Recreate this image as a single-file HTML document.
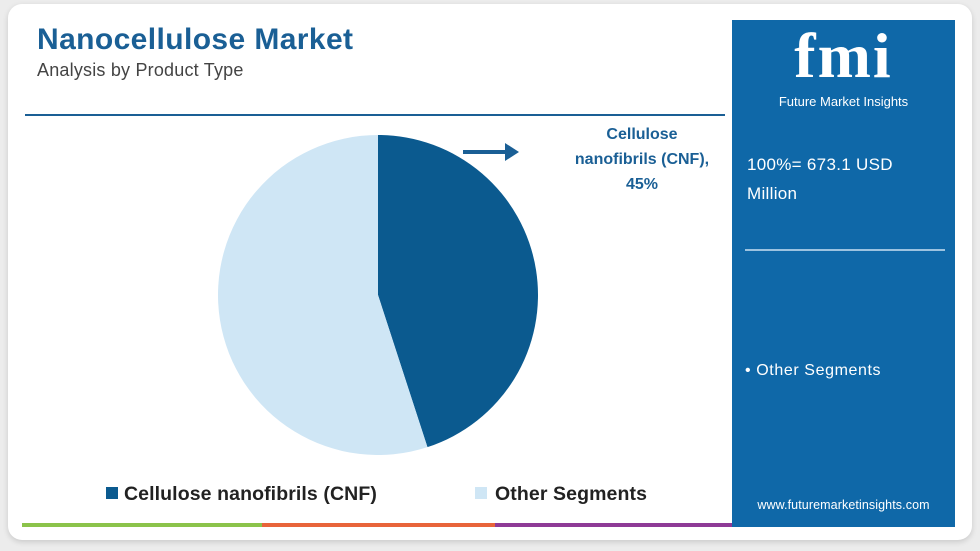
<!DOCTYPE html>
<html><head><meta charset="utf-8"><style>
body{margin:0;width:980px;height:551px;background:#ececec;font-family:"Liberation Sans",sans-serif;position:relative;overflow:hidden}
.abs{position:absolute}
</style></head><body>
<div class="abs" style="left:8px;top:4px;width:964px;height:536px;background:#fff;border-radius:14px;box-shadow:0 2px 6px rgba(0,0,0,.15)"></div>
<div class="abs" style="left:37px;top:23px;font-size:30px;font-weight:bold;color:#1a5f95;letter-spacing:0.4px">Nanocellulose Market</div>
<div class="abs" style="left:37px;top:60px;font-size:18px;color:#444;letter-spacing:0.2px">Analysis by Product Type</div>
<div class="abs" style="left:25px;top:114px;width:700px;height:2px;background:#1a5f95"></div>
<div class="abs" style="left:732px;top:20px;width:223px;height:507px;background:#0f68a8"></div>
<div class="abs" style="left:732px;top:24px;width:223px;text-align:center;color:#fff;font-family:'Liberation Serif',serif;font-weight:bold;font-size:64px;line-height:64px;letter-spacing:2px">fmi</div>
<div class="abs" style="left:732px;top:94px;width:223px;text-align:center;color:#fff;font-size:13px">Future Market Insights</div>
<div class="abs" style="left:747px;top:150px;color:#fff;font-size:17px;line-height:29px;letter-spacing:0.3px">100%= 673.1 USD<br>Million</div>
<div class="abs" style="left:745px;top:249px;width:200px;height:2px;background:#9cc3e0"></div>
<div class="abs" style="left:745px;top:362px;color:#fff;font-size:16px;letter-spacing:0.6px">• Other Segments</div>
<div class="abs" style="left:732px;top:498px;width:223px;text-align:center;color:#fff;font-size:12.5px;letter-spacing:0.1px">www.futuremarketinsights.com</div>
<div class="abs" style="left:22px;top:523px;width:240px;height:4px;background:#8bc34a"></div>
<div class="abs" style="left:262px;top:523px;width:233px;height:4px;background:#e8643a"></div>
<div class="abs" style="left:495px;top:523px;width:237px;height:4px;background:#8e3a96"></div>
<svg class="abs" style="left:0;top:0" width="980" height="551" id="chart">
<g id="slices"></g>
<line x1="463" y1="152" x2="510" y2="152" stroke="#1a5f95" stroke-width="4"/>
<polygon points="505,143 519,152 505,161" fill="#1a5f95"/>
<text x="642" y="139" text-anchor="middle" font-size="16" font-weight="bold" fill="#1a5f95"><tspan x="642">Cellulose</tspan><tspan x="642" dy="25">nanofibrils (CNF),</tspan><tspan x="642" dy="25">45%</tspan></text>
<rect x="106" y="487" width="12" height="12" fill="#0b5a8f"/>
<text x="124" y="500" font-size="19.5" font-weight="bold" fill="#222" letter-spacing="0.1">Cellulose nanofibrils (CNF)</text>
<rect x="475" y="487" width="12" height="12" fill="#cfe6f5"/>
<text x="495" y="500" font-size="19.5" font-weight="bold" fill="#222" letter-spacing="0.1">Other Segments</text>
</svg>
<script>
const categories=["Cellulose nanofibrils (CNF)","Other Segments"];
const shares=[45,55];
const colors=["#0b5a8f","#cfe6f5"];
const cx=378,cy=295,r=160;
const g=document.getElementById('slices');
const total=shares.reduce((a,b)=>a+b,0);
let a0=0;
shares.forEach((v,i)=>{
  const a1=a0+v/total*2*Math.PI;
  const x0=cx+r*Math.sin(a0),y0=cy-r*Math.cos(a0),x1=cx+r*Math.sin(a1),y1=cy-r*Math.cos(a1);
  const p=document.createElementNS('http://www.w3.org/2000/svg','path');
  p.setAttribute('d',`M${cx},${cy}L${x0},${y0}A${r},${r} 0 ${a1-a0>Math.PI?1:0} 1 ${x1},${y1}Z`);
  p.setAttribute('fill',colors[i]);
  
  
  g.appendChild(p);
  a0=a1;
});
</script>
</body></html>
